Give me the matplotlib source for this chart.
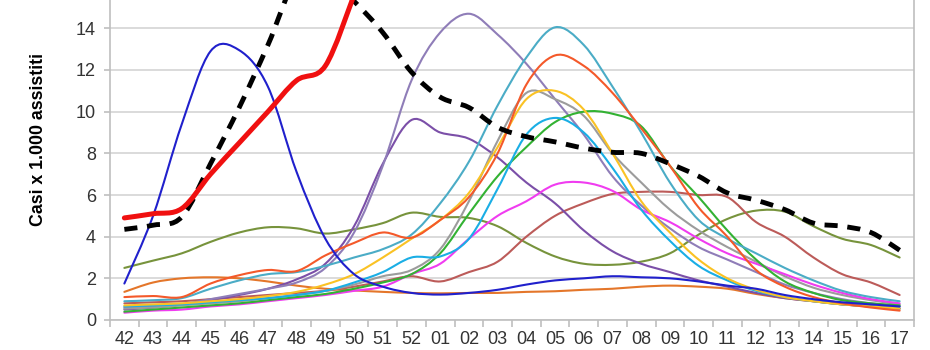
import numpy as np
import matplotlib
matplotlib.use("Agg")
import matplotlib.pyplot as plt
from matplotlib.path import Path
from matplotlib.patches import PathPatch

plt.rcParams["font.family"] = ["Liberation Sans", "DejaVu Sans"]

weeks = ["42", "43", "44", "45", "46", "47", "48", "49", "50", "51", "52",
         "01", "02", "03", "04", "05", "06", "07", "08", "09", "10", "11",
         "12", "13", "14", "15", "16", "17"]

# casi per 1.000 assistiti, una lista per stagione
blu = [1.75, 5.0, 9.4, 12.9, 12.95, 11.2, 7.1, 3.9, 2.2, 1.6, 1.3, 1.22, 1.3, 1.45,
       1.7, 1.9, 2.0, 2.1, 2.05, 2.0, 1.85, 1.65, 1.5, 1.2, 1.0, 0.85, 0.75, 0.65]
oliva = [2.5, 2.85, 3.2, 3.75, 4.2, 4.45, 4.4, 4.15, 4.35, 4.65, 5.15, 4.95, 4.9, 4.5,
         3.7, 3.05, 2.7, 2.65, 2.8, 3.2, 4.1, 4.85, 5.25, 5.2, 4.5, 3.9, 3.6, 3.0]
arancio = [1.35, 1.8, 2.0, 2.05, 2.0, 1.85, 1.65, 1.5, 1.42, 1.35, 1.3, 1.28, 1.3, 1.3,
           1.35, 1.38, 1.45, 1.5, 1.6, 1.65, 1.6, 1.5, 1.25, 1.05, 0.9, 0.75, 0.65, 0.55]
rosso_arancio = [1.1, 1.15, 1.1, 1.75, 2.15, 2.4, 2.35, 3.1, 3.7, 4.2, 3.95, 4.8, 5.9, 8.0,
                 11.3, 12.7, 12.2, 10.9, 9.2, 7.4, 5.4, 4.0, 2.4, 1.6, 1.1, 0.8, 0.6, 0.45]
ottanio = [0.9, 0.95, 1.05, 1.5, 1.9, 2.2, 2.3, 2.6, 3.0, 3.4, 4.1, 5.6, 7.6, 10.3,
           12.6, 14.05, 13.2, 11.2, 9.0, 6.6, 4.8, 3.9, 3.2, 2.5, 1.9, 1.4, 1.1, 0.9]
grigio = [0.55, 0.6, 0.7, 0.8, 0.9, 1.05, 1.2, 1.4, 1.7, 2.1, 2.4, 3.4, 5.7, 8.6,
          10.9, 10.6, 9.8, 8.0, 6.6, 5.3, 4.3, 3.5, 2.8, 2.1, 1.55, 1.2, 0.95, 0.75]
giallo = [0.7, 0.75, 0.8, 0.9, 1.0, 1.15, 1.35, 1.7, 2.2, 3.0, 3.9, 4.8, 6.1, 8.3,
          10.6, 11.0, 10.1, 8.0, 5.7, 4.2, 2.9, 2.0, 1.45, 1.1, 0.9, 0.75, 0.65, 0.55]
azzurro = [0.65, 0.7, 0.75, 0.85, 0.95, 1.05, 1.2, 1.4, 1.8, 2.3, 3.0, 3.05, 3.9, 6.3,
           8.9, 9.7, 9.0, 7.3, 5.3, 3.8, 2.6, 1.9, 1.4, 1.1, 0.9, 0.75, 0.65, 0.55]
verde = [0.4, 0.5, 0.6, 0.7, 0.8, 0.95, 1.1, 1.25, 1.5, 1.8, 2.2, 3.2, 5.1, 6.9,
         8.3, 9.5, 10.0, 9.9, 9.3, 7.4, 5.9, 4.3, 2.9, 1.85, 1.3, 0.95, 0.8, 0.7]
lavanda = [0.6, 0.65, 0.75, 1.0, 1.25, 1.5, 1.8, 2.5, 4.2, 7.4, 11.5, 13.8, 14.7, 13.7,
           12.3, 10.6, 8.9, 6.9, 5.5, 4.4, 3.5, 2.9, 2.3, 1.7, 1.3, 1.0, 0.8, 0.65]
viola = [0.5, 0.6, 0.75, 0.95, 1.2, 1.5, 1.95, 2.7, 4.5, 7.5, 9.6, 9.0, 8.7, 7.8,
         6.6, 5.6, 4.3, 3.3, 2.7, 2.3, 1.9, 1.6, 1.3, 1.05, 0.9, 0.75, 0.65, 0.55]
magenta = [0.35, 0.45, 0.5, 0.65, 0.75, 0.9, 1.05, 1.2, 1.4, 1.6, 2.2, 2.7, 3.9, 5.0,
           5.7, 6.5, 6.6, 6.2, 5.3, 4.7, 3.9, 3.2, 2.7, 2.2, 1.7, 1.3, 1.0, 0.8]
mattone = [0.8, 0.85, 0.9, 1.0, 1.1, 1.2, 1.3, 1.4, 1.6, 1.85, 2.1, 1.85, 2.3, 2.8,
           4.0, 5.0, 5.6, 6.05, 6.15, 6.15, 6.0, 5.9, 4.7, 4.0, 3.0, 2.2, 1.8, 1.2]
tratteggio = [4.35, 4.55, 4.95, 7.5, 10.2, 13.2, 16.4, 16.6, 15.3, 13.8, 11.9, 10.7, 10.2, 9.25,
              8.8, 8.55, 8.25, 8.05, 8.0, 7.5, 6.9, 6.1, 5.75, 5.3, 4.65, 4.5, 4.2, 3.35]
stagione_corrente = [4.9, 5.1, 5.35, 7.0, 8.5, 10.0, 11.5, 12.2, 15.6]

thin_series = [
    (oliva, "#77933c"), (arancio, "#e4762a"), (mattone, "#bc5b59"),
    (viola, "#7b4fa8"), (lavanda, "#8f7db8"), (grigio, "#9c9c9c"),
    (magenta, "#f03cf0"), (verde, "#33b233"), (azzurro, "#1aaee5"),
    (giallo, "#fac224"), (ottanio, "#4bacc6"), (rosso_arancio, "#f4592a"),
    (blu, "#2020cc"),
]


def smooth_path(values):
    # curva "smussata" stile Excel: bezier cubiche tra i punti
    pts = np.column_stack([np.arange(len(values)), values]).astype(float)
    n = len(pts)
    verts = [pts[0]]
    codes = [Path.MOVETO]
    for i in range(n - 1):
        p0 = pts[i - 1] if i > 0 else pts[i]
        p1 = pts[i]
        p2 = pts[i + 1]
        p3 = pts[i + 2] if i + 2 < n else pts[i + 1]
        verts += [p1 + (p2 - p0) / 6, p2 - (p3 - p1) / 6, p2]
        codes += [Path.CURVE4] * 3
    return Path(verts, codes)


fig = plt.figure(figsize=(9.3, 3.5), dpi=100)
ax = fig.add_axes([110 / 930, 30 / 350, 804 / 930, 320 / 350])

for vals, col in thin_series:
    ax.add_patch(PathPatch(smooth_path(vals), fill=False, edgecolor=col, lw=1.5,
                           capstyle="round", joinstyle="round", zorder=3))

ax.add_patch(PathPatch(smooth_path(tratteggio), fill=False, edgecolor="black", lw=3.5,
                       linestyle=(0, (2.7, 2.0)), capstyle="butt", zorder=4))
ax.add_patch(PathPatch(smooth_path(stagione_corrente), fill=False, edgecolor="#f01010", lw=3.6,
                       capstyle="round", joinstyle="round", zorder=5))

ax.set_xlim(-0.5, len(weeks) - 0.5)
ax.set_ylim(0, 15.36)
ax.set_xticks(range(len(weeks)))
ax.set_xticklabels(weeks)
ax.set_xticks(np.arange(-0.5, len(weeks), 1), minor=True)
ax.set_yticks(range(0, 15, 2))

ax.tick_params(axis="x", which="major", length=0, pad=8, labelsize=13, labelcolor="#333333")
ax.tick_params(axis="x", which="minor", length=5, width=1.2, color="#bfbfbf")
ax.tick_params(axis="y", length=4, width=1.2, color="#bfbfbf", pad=6,
               labelsize=13, labelcolor="#333333")

ax.grid(axis="y", color="#d4d4d4", lw=1.2, zorder=0)
ax.set_axisbelow(True)
for side in ["left", "right", "bottom"]:
    ax.spines[side].set_color("#bfbfbf")
    ax.spines[side].set_linewidth(1.2)
ax.spines["top"].set_visible(False)

ax.set_ylabel("Casi x 1.000 assistiti", fontsize=12.8, fontweight="bold", color="black")
ax.yaxis.set_label_coords(-0.078, 0.5625)

fig.savefig("out.png", dpi=100)
